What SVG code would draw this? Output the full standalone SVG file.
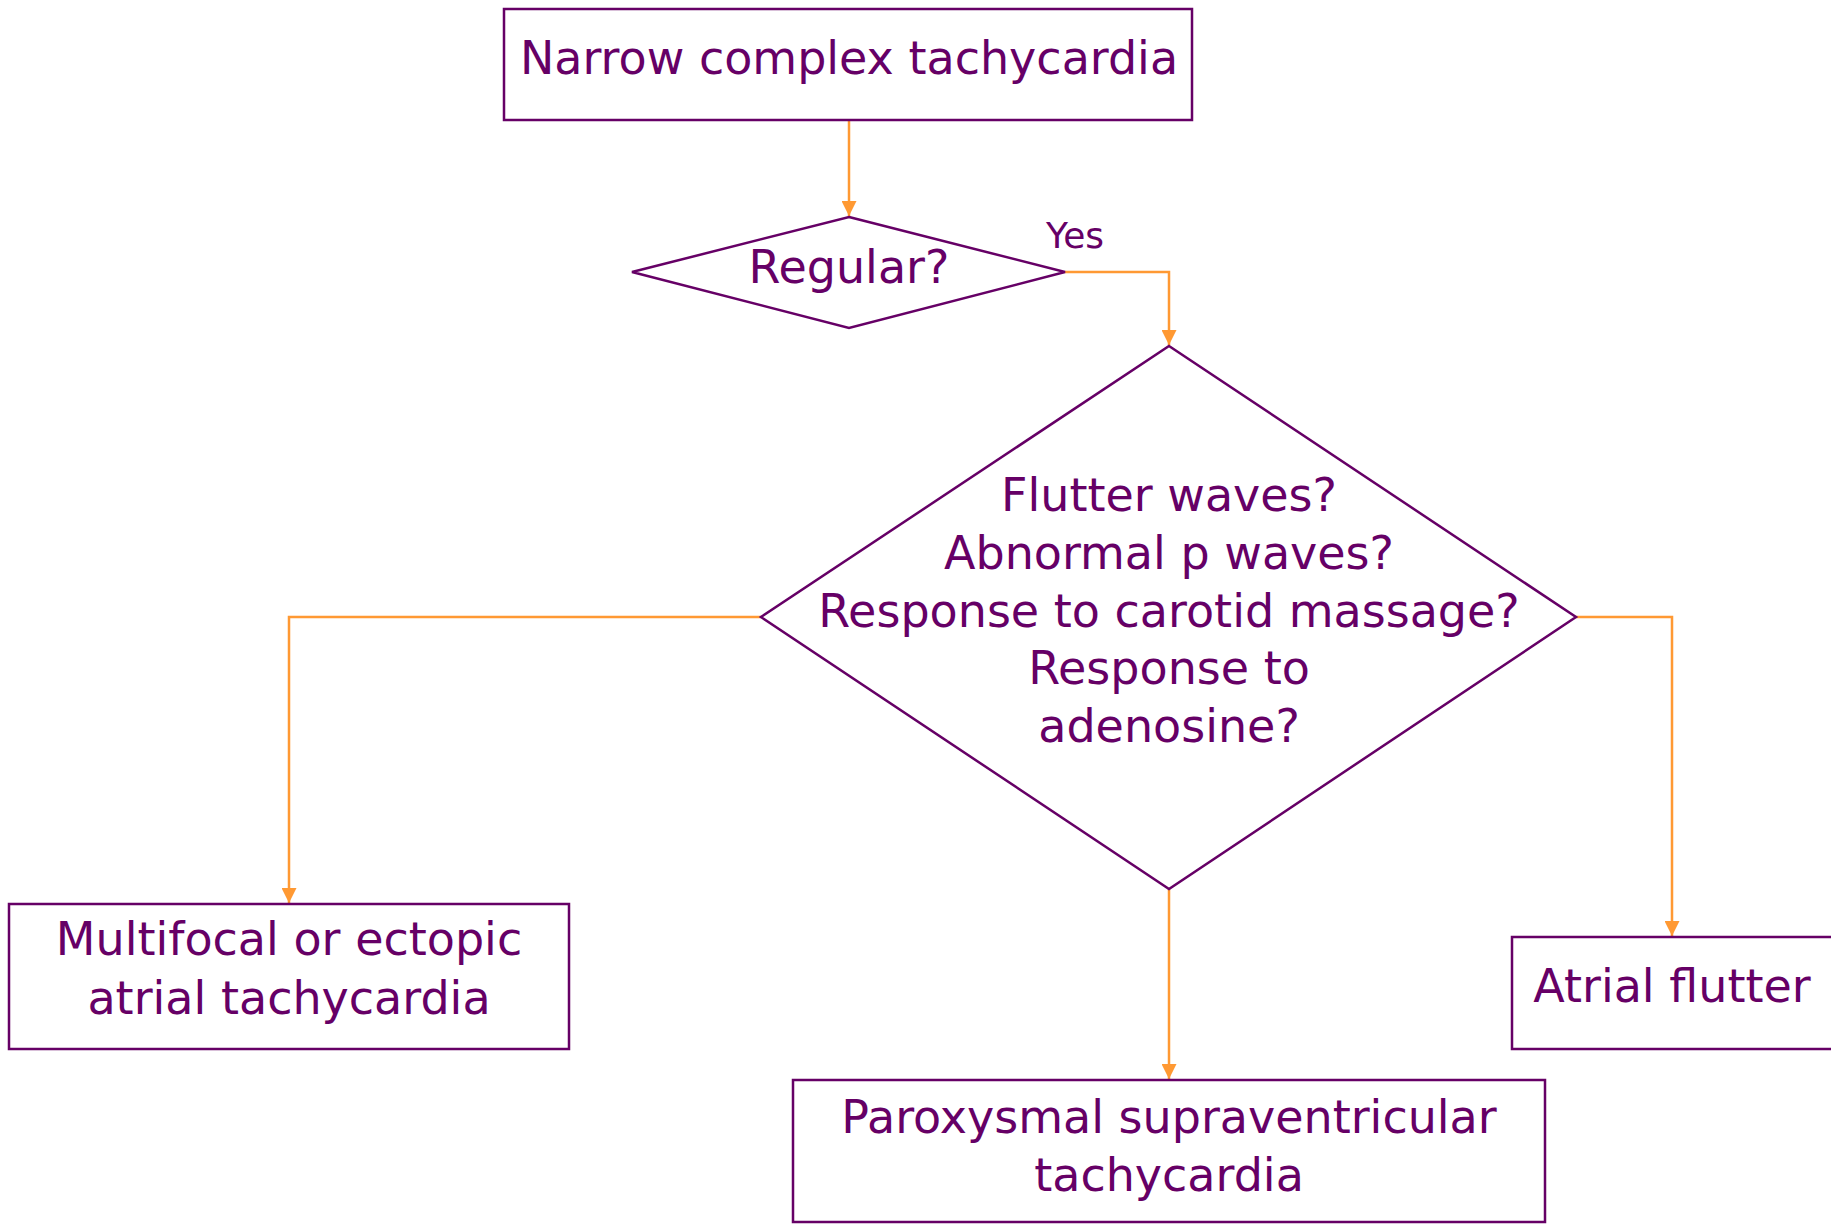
<svg xmlns="http://www.w3.org/2000/svg" width="1831" height="1224" viewBox="0 0 1831 1224">
  <style>
    .node { fill: #ffffff; stroke: #660066; stroke-width: 2.5; }
    .label { font-family: "DejaVu Sans", "Liberation Sans", sans-serif; font-size: 46px; fill: #660066; text-anchor: middle; }
    .small { font-size: 36px; text-anchor: start; }
    .edge { fill: none; stroke: #ff9933; stroke-width: 2.5; }
  </style>
  <defs>
    <marker id="arrow" viewBox="0 0 10 10" refX="10" refY="5" markerWidth="6" markerHeight="6" markerUnits="strokeWidth" orient="auto">
      <path d="M0,0 L10,5 L0,10 Z" fill="#ff9933"/>
    </marker>
  </defs>
  <rect width="1831" height="1224" fill="#ffffff"/>

  <g id="connectors">
    <path class="edge" d="M849,120 V216" marker-end="url(#arrow)"/>
    <path class="edge" d="M1065,272 H1169 V345" marker-end="url(#arrow)"/>
    <path class="edge" d="M761,617 H289 V903" marker-end="url(#arrow)"/>
    <path class="edge" d="M1576,617 H1672 V936" marker-end="url(#arrow)"/>
    <path class="edge" d="M1169,889 V1079" marker-end="url(#arrow)"/>
    <text class="label small" x="1046" y="248">Yes</text>
  </g>

  <g id="start">
    <rect class="node" x="504" y="9" width="688" height="111"/>
    <text class="label" x="849" y="74">Narrow complex tachycardia</text>
  </g>

  <g id="regular">
    <polygon class="node" points="849,217 1065,272 849,328 632,272"/>
    <text class="label" x="849" y="283">Regular?</text>
  </g>

  <g id="checks">
    <polygon class="node" points="1169,346 1576,617 1169,889 761,617"/>
    <text class="label" x="1169" y="511">Flutter waves?</text>
    <text class="label" x="1169" y="569">Abnormal p waves?</text>
    <text class="label" x="1169" y="627">Response to carotid massage?</text>
    <text class="label" x="1169" y="684">Response to</text>
    <text class="label" x="1169" y="742">adenosine?</text>
  </g>

  <g id="multifocal">
    <rect class="node" x="9" y="904" width="560" height="145"/>
    <text class="label" x="289" y="955">Multifocal or ectopic</text>
    <text class="label" x="289" y="1014">atrial tachycardia</text>
  </g>

  <g id="psvt">
    <rect class="node" x="793" y="1080" width="752" height="142"/>
    <text class="label" x="1169" y="1133">Paroxysmal supraventricular</text>
    <text class="label" x="1169" y="1191">tachycardia</text>
  </g>

  <g id="flutter">
    <rect class="node" x="1512" y="937" width="322" height="112"/>
    <text class="label" x="1672" y="1002">Atrial flutter</text>
  </g>
</svg>
